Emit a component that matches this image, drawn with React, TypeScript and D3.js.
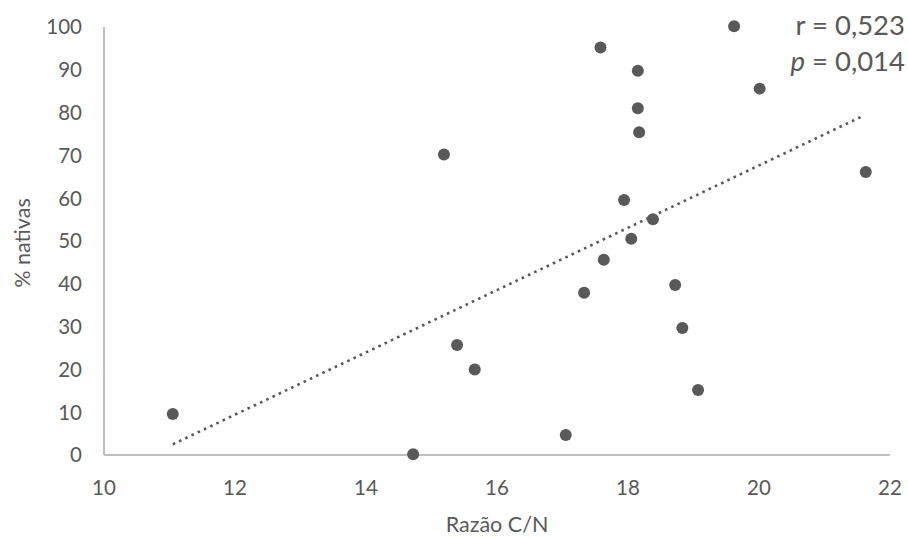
import React from "react";
import * as d3 from "d3";

const cnRatio = [11.05, 14.72, 15.19, 15.39, 15.66, 17.05, 17.33, 17.58, 17.63, 17.94, 18.05, 18.15, 18.15, 18.17, 18.38, 18.72, 18.83, 19.07, 19.62, 20.01, 21.63];
const nativas = [9.6, 0.2, 70.2, 25.7, 20, 4.7, 37.9, 95.2, 45.6, 59.6, 50.5, 89.8, 81, 75.4, 55.1, 39.7, 29.7, 15.2, 100.2, 85.6, 66.1];
const trendX = [11.05, 21.6];
const trendY = [2.5, 79.3];
const xTicks = [10, 12, 14, 16, 18, 20, 22];
const yTicks = [0, 10, 20, 30, 40, 50, 60, 70, 80, 90, 100];
const statLines = ["r = 0,523", "p = 0,014"];

export default function App() {
  const W = 908, H = 538;
  const x = d3.scaleLinear().domain([10, 22]).range([104, 890]);
  const y = d3.scaleLinear().domain([0, 100]).range([455, 27]);
  const grey = "#595959";
  const axisCol = "#bfbfbf";
  const font = "Lato, 'Open Sans', sans-serif";
  const line = d3.line<number>().x((d, i) => x(trendX[i])).y((d, i) => y(trendY[i]));
  return (
    <svg width={W} height={H} style={{ position: "absolute", left: 0, top: 0, background: "#fff" }} fontFamily={font}>
      <line x1={x(10)} x2={x(22)} y1={y(0)} y2={y(0)} stroke={axisCol} strokeWidth={2} />
      <line x1={x(10)} x2={x(10)} y1={y(0)} y2={y(100)} stroke={axisCol} strokeWidth={2} />
      {yTicks.map((t) => (
        <text key={"y" + t} x={82} y={y(t)} dy="0.36em" textAnchor="end" fontSize={20.5} fill={grey}>{t}</text>
      ))}
      {xTicks.map((t) => (
        <text key={"x" + t} x={x(t)} y={495} textAnchor="middle" fontSize={20.5} fill={grey}>{t}</text>
      ))}
      <text x={497} y={532} textAnchor="middle" fontSize={21.5} fill={grey}>Razão C/N</text>
      <text transform="translate(30,243) rotate(-90)" textAnchor="middle" fontSize={21.5} fill={grey}>% nativas</text>
      <path d={line(trendY) || ""} fill="none" stroke={grey} strokeWidth={2.6} strokeDasharray="2.6 4.3" />
      {cnRatio.map((c, i) => (
        <circle key={i} cx={x(c)} cy={y(nativas[i])} r={6} fill={grey} />
      ))}
      <text x={905} y={35} textAnchor="end" fontSize={27.5} fill={grey}>{statLines[0]}</text>
      <text x={905} y={71} textAnchor="end" fontSize={27.5} fill={grey}>
        <tspan fontStyle="italic">{statLines[1].slice(0, 1)}</tspan>{statLines[1].slice(1)}
      </text>
    </svg>
  );
}
